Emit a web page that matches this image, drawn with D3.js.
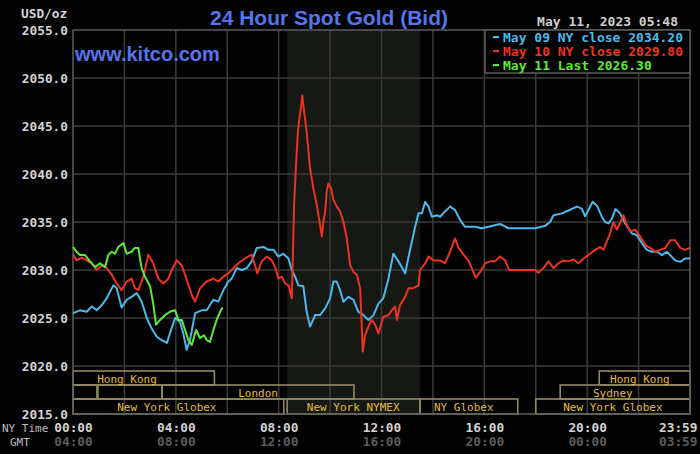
<!DOCTYPE html>
<html><head><meta charset="utf-8">
<script src="https://cdn.jsdelivr.net/npm/d3@7/dist/d3.min.js"></script>
<style>
html,body{margin:0;padding:0;background:#020202;}
svg{display:block;}
</style></head>
<body>
<svg id="chart" width="700" height="454"></svg>
<script>
// ---- data ----
const yTicks = [2015, 2020, 2025, 2030, 2035, 2040, 2045, 2050, 2055];
const xTickHours = [0, 4, 8, 12, 16, 20, 24];
const xTickLabelsNY = ["00:00", "04:00", "08:00", "12:00", "16:00", "20:00", "23:59"];
const xTickLabelsGMT = ["04:00", "08:00", "12:00", "16:00", "20:00", "00:00", "03:59"];

const may09Hours = [0,0.27,0.53,0.73,0.92,1.12,1.31,1.57,1.7,1.89,2.09,2.28,2.48,2.67,2.87,3.06,3.26,3.45,3.65,3.77,3.97,4.16,4.29,4.42,4.55,4.75,5.0,5.2,5.46,5.65,5.85,6.04,6.17,6.37,6.56,6.76,6.95,7.15,7.41,7.6,7.8,7.99,8.18,8.38,8.51,8.64,8.77,8.96,9.09,9.22,9.42,9.61,9.81,10.0,10.13,10.26,10.39,10.52,10.71,10.91,11.1,11.3,11.49,11.69,11.88,12.07,12.27,12.46,12.66,12.92,13.11,13.31,13.44,13.57,13.7,13.83,13.96,14.15,14.28,14.47,14.67,14.86,15.06,15.25,15.64,15.9,16.16,16.61,16.94,17.33,17.98,18.37,18.56,18.69,19.02,19.27,19.6,19.79,19.92,20.05,20.21,20.38,20.57,20.7,20.83,20.97,21.1,21.28,21.48,21.74,21.93,22.13,22.32,22.52,22.71,22.91,23.1,23.23,23.42,23.62,23.81,24.0];
const may09Values = [2025.5,2025.8,2025.65,2026.2,2025.8,2026.35,2027.05,2028.4,2028.1,2026.1,2026.9,2027.2,2027.6,2026.7,2025.0,2023.9,2023.05,2022.7,2022.4,2023.4,2025.0,2024.6,2023.4,2021.7,2022.7,2025.5,2025.8,2025.8,2026.9,2026.7,2027.9,2028.8,2029.1,2030.2,2030.0,2030.2,2030.9,2032.3,2032.4,2032.1,2032.1,2031.4,2031.7,2031.2,2030.0,2029.3,2028.4,2028.3,2025.65,2024.1,2025.3,2025.3,2026.0,2027.05,2028.8,2028.8,2027.9,2026.7,2027.2,2026.9,2025.65,2025.3,2024.8,2025.3,2026.5,2027.05,2029.1,2031.7,2030.9,2029.65,2032.1,2034.5,2035.9,2035.9,2037.1,2036.6,2035.55,2035.7,2035.55,2036.1,2036.6,2036.25,2035.2,2034.5,2034.5,2034.35,2034.5,2034.8,2034.35,2034.35,2034.35,2034.6,2035.0,2035.7,2035.9,2036.2,2036.6,2036.4,2035.6,2036.25,2037.1,2036.7,2035.55,2035.0,2034.85,2035.4,2036.35,2035.9,2034.85,2033.8,2033.65,2032.8,2032.1,2031.9,2031.9,2031.55,2031.9,2031.55,2031.0,2030.85,2031.2,2031.2];

const may10Hours = [0,0.14,0.34,0.53,0.73,0.92,1.12,1.31,1.51,1.7,1.89,2.09,2.28,2.41,2.54,2.74,2.93,3.12,3.32,3.51,3.71,3.84,4.03,4.23,4.42,4.62,4.75,4.94,5.2,5.46,5.65,5.85,6.04,6.17,6.43,6.69,6.95,7.08,7.17,7.34,7.54,7.73,7.86,7.99,8.12,8.25,8.38,8.51,8.55,8.6,8.67,8.74,8.79,8.87,8.92,8.98,9.09,9.22,9.35,9.48,9.61,9.68,9.74,9.81,9.87,9.93,10.04,10.13,10.26,10.39,10.52,10.65,10.78,10.91,11.04,11.17,11.23,11.27,11.36,11.49,11.62,11.75,11.88,12.07,12.27,12.4,12.53,12.6,12.72,12.92,13.05,13.24,13.44,13.5,13.7,13.83,14.02,14.28,14.47,14.67,14.86,15.0,15.19,15.38,15.51,15.67,15.84,16.03,16.23,16.42,16.61,16.81,16.96,17.33,17.98,18.1,18.3,18.49,18.69,18.88,19.08,19.27,19.47,19.66,19.86,20.12,20.31,20.51,20.63,20.76,20.89,21.02,21.15,21.28,21.41,21.54,21.67,21.87,22.06,22.26,22.45,22.65,22.84,23.04,23.23,23.42,23.62,23.81,24.0];
const may10Values = [2031.6,2031.0,2031.3,2031.0,2030.7,2030.0,2030.5,2030.2,2029.5,2028.6,2027.9,2028.8,2029.1,2028.1,2027.9,2029.3,2031.6,2030.7,2029.1,2028.6,2029.1,2030.0,2031.0,2030.5,2029.0,2027.4,2026.7,2028.1,2028.8,2029.1,2028.8,2029.3,2029.65,2030.0,2030.7,2031.2,2031.6,2030.5,2029.65,2030.9,2031.4,2031.0,2030.3,2029.1,2029.3,2028.6,2028.4,2027.05,2031.2,2036.8,2040.6,2044.1,2045.45,2047.0,2048.2,2046.7,2044.4,2040.6,2038.5,2036.8,2034.7,2033.5,2035.0,2036.1,2038.2,2039.0,2038.5,2037.3,2036.6,2036.1,2035.0,2033.3,2030.5,2029.8,2029.5,2028.1,2024.3,2021.5,2023.2,2024.1,2024.8,2024.3,2023.4,2025.1,2025.3,2025.8,2026.2,2024.8,2026.35,2027.2,2028.1,2028.1,2028.4,2030.0,2030.7,2031.4,2031.0,2031.0,2030.7,2031.9,2033.3,2032.3,2031.6,2031.0,2030.2,2029.2,2029.8,2030.7,2030.9,2030.9,2031.4,2031.0,2030.0,2030.0,2030.0,2029.7,2030.2,2030.9,2030.2,2030.7,2031.0,2030.9,2031.1,2030.7,2031.2,2031.7,2032.1,2032.4,2032.1,2032.95,2033.8,2035.0,2034.2,2034.9,2035.7,2034.7,2034.0,2034.2,2033.5,2032.6,2032.3,2031.9,2032.1,2032.3,2033.1,2033.1,2032.3,2032.1,2032.3];

const may11Hours = [0,0.14,0.27,0.47,0.66,0.86,1.05,1.25,1.37,1.51,1.63,1.76,1.96,2.09,2.28,2.41,2.54,2.67,2.8,3.0,3.12,3.23,3.39,3.58,3.77,3.97,4.1,4.23,4.36,4.49,4.62,4.79,4.94,5.1,5.2,5.33,5.46,5.59,5.72,5.82];
const may11Values = [2032.4,2031.9,2031.55,2031.55,2030.9,2030.3,2030.7,2030.3,2031.55,2031.9,2031.7,2032.4,2032.8,2031.7,2031.9,2032.3,2032.3,2030.2,2029.3,2028.3,2026.5,2024.3,2024.8,2025.3,2025.65,2025.8,2024.8,2024.8,2023.75,2022.7,2022.2,2023.75,2022.9,2023.2,2022.7,2022.5,2023.75,2024.8,2025.65,2026.1];

const seriesNames = ["May 09 NY close 2034.20", "May 10 NY close 2029.80", "May 11 Last 2026.30"];

// sessions: row, start hour, end hour, label, label centre hour
const sessionRows = [0, 1, 1, 1, 2, 2, 2, 2, 1, 0];
const sessionStart = [0, 0, 0.97, 3.46, 0, 8.33, 13.5, 18.0, 18.95, 20.47];
const sessionEnd = [5.5, 0.93, 3.46, 10.93, 8.2, 13.5, 17.3, 24, 24, 24];
const sessionLabels = ["Hong Kong", "", "", "London", "New York Globex", "New York NYMEX", "NY Globex", "New York Globex", "Sydney", "Hong Kong"];
const sessionLabelAt = [2.1, 0, 0, 7.2, 3.65, 10.9, 15.2, 21.0, 21.0, 22.05];
const nymexShade = [8.33, 13.5];

// ---- drawing ----
(function draw() {
const svg = d3.select("#chart");
const W = 700, H = 454;
const pLeft = 73, pRight = 690, pTop = 30, pBottom = 414;
const x = d3.scaleLinear().domain([0, 24]).range([pLeft, pRight]);
const y = d3.scaleLinear().domain([2015, 2055]).range([pBottom, pTop]);
const mono = "'DejaVu Sans Mono', monospace";

svg.append("rect").attr("width", W).attr("height", H).attr("fill", "#020202");

// NYMEX shading
svg.append("rect")
  .attr("x", x(nymexShade[0])).attr("y", pTop)
  .attr("width", x(nymexShade[1]) - x(nymexShade[0])).attr("height", pBottom - pTop)
  .attr("fill", "#161814");

// grid
const gridColor = "#3b3b3b";
svg.append("g").selectAll("line").data(d3.range(2, 24, 2)).join("line")
  .attr("x1", d => x(d)).attr("x2", d => x(d)).attr("y1", pTop).attr("y2", pBottom)
  .attr("stroke", gridColor).attr("stroke-width", 1.5);
svg.append("g").selectAll("line").data(yTicks.filter(v => v > 2015 && v < 2055)).join("line")
  .attr("x1", pLeft).attr("x2", pRight).attr("y1", d => y(d)).attr("y2", d => y(d))
  .attr("stroke", gridColor).attr("stroke-width", 1.5);

// session boxes
const rowTop = [371, 385, 399];
const rowH = [14, 14, 15];
const sess = sessionRows.map((r, i) => ({r, s: sessionStart[i], e: sessionEnd[i], lab: sessionLabels[i], at: sessionLabelAt[i]}));
const sg = svg.append("g");
sg.selectAll("rect").data(sess).join("rect")
  .attr("x", d => x(d.s)).attr("y", d => rowTop[d.r])
  .attr("width", d => x(d.e) - x(d.s)).attr("height", d => rowH[d.r])
  .attr("fill", "none").attr("stroke", "#8f8a62").attr("stroke-width", 1.6);
sg.selectAll("text").data(sess.filter(d => d.lab)).join("text")
  .attr("x", d => x(d.at)).attr("y", d => rowTop[d.r] + 11.5)
  .attr("text-anchor", "middle")
  .attr("font-family", mono).attr("font-size", 11)
  .attr("fill", "#e2bd3c").text(d => d.lab);

// plot border
svg.append("rect").attr("x", pLeft).attr("y", pTop).attr("width", pRight - pLeft).attr("height", pBottom - pTop)
  .attr("fill", "none").attr("stroke", "#5e5e5e").attr("stroke-width", 1.5);

// lines
const line = d3.line().x(d => x(d[0])).y(d => y(d[1]));
const series = [
  {h: may09Hours, v: may09Values, c: "#4cb9ea"},
  {h: may10Hours, v: may10Values, c: "#ec3320"},
  {h: may11Hours, v: may11Values, c: "#5ee93a"}
];
series.forEach(s => {
  svg.append("path").datum(s.h.map((h, i) => [h, s.v[i]]))
    .attr("d", line).attr("fill", "none").attr("stroke", s.c)
    .attr("stroke-width", 2).attr("stroke-linejoin", "round");
});

// y axis
const yAx = svg.append("g").attr("transform", `translate(${pLeft - 5},0)`)
  .call(d3.axisLeft(y).tickValues(yTicks).tickFormat(d3.format(".1f")).tickSize(0).tickPadding(0));
yAx.select(".domain").remove();
yAx.selectAll("text").attr("font-family", mono).attr("font-size", 12.8).attr("font-weight", "bold")
  .attr("fill", "#d2d2d2").attr("dy", "0.32em");

svg.append("text").attr("x", 21).attr("y", 18).attr("font-family", mono).attr("font-size", 12.8)
  .attr("font-weight", "bold").attr("fill", "#d2d2d2").text("USD/oz");

// x axes
function timeAxis(labels, yPos, color) {
  const g = svg.append("g").attr("transform", `translate(0,${yPos})`)
    .call(d3.axisBottom(x).tickValues(xTickHours).tickFormat((d, i) => labels[i]).tickSize(0).tickPadding(0));
  g.select(".domain").remove();
  g.selectAll("text").attr("font-family", mono).attr("font-size", 12.8).attr("font-weight", "bold")
    .attr("fill", color).attr("dy", 0)
    .attr("text-anchor", (d, i) => i === xTickHours.length - 1 ? "end" : "middle")
    .attr("dx", (d, i) => i === xTickHours.length - 1 ? 7 : 0);
}
timeAxis(xTickLabelsNY, 432, "#d2d2d2");
timeAxis(xTickLabelsGMT, 446, "#5c5c5c");
svg.append("text").attr("x", 2).attr("y", 432).attr("font-family", mono).attr("font-size", 11)
  .attr("fill", "#bdbdbd").text("NY Time");
svg.append("text").attr("x", 10).attr("y", 446).attr("font-family", mono).attr("font-size", 11)
  .attr("fill", "#bdbdbd").text("GMT");

// titles
svg.append("text").attr("x", 210).attr("y", 25)
  .attr("font-family", "'Liberation Sans', Arial, sans-serif").attr("font-size", 21).attr("font-weight", "bold")
  .attr("fill", "#5674ee").text("24 Hour Spot Gold (Bid)");
svg.append("text").attr("x", 75).attr("y", 61)
  .attr("font-family", "'Liberation Sans', Arial, sans-serif").attr("font-size", 20).attr("font-weight", "bold")
  .attr("fill", "#5674ee").text("www.kitco.com");
svg.append("text").attr("x", 678).attr("y", 26).attr("text-anchor", "end")
  .attr("font-family", mono).attr("font-size", 13).attr("font-weight", "bold")
  .attr("fill", "#cfcfcf").text("May 11, 2023 05:48");

// legend
const lg = svg.append("g");
lg.append("rect").attr("x", 485).attr("y", pTop).attr("width", pRight - 485).attr("height", 43)
  .attr("fill", "#020202").attr("stroke", "#5e5e5e").attr("stroke-width", 1.5);
seriesNames.forEach((n, i) => {
  lg.append("rect").attr("x", 493).attr("y", 36 + i * 14).attr("width", 6).attr("height", 2.2).attr("fill", series[i].c);
  lg.append("text").attr("x", 503).attr("y", 42 + i * 14)
    .attr("font-family", mono).attr("font-size", 13).attr("font-weight", "bold")
    .attr("fill", series[i].c).text(n);
});
})();
</script>
</body></html>
